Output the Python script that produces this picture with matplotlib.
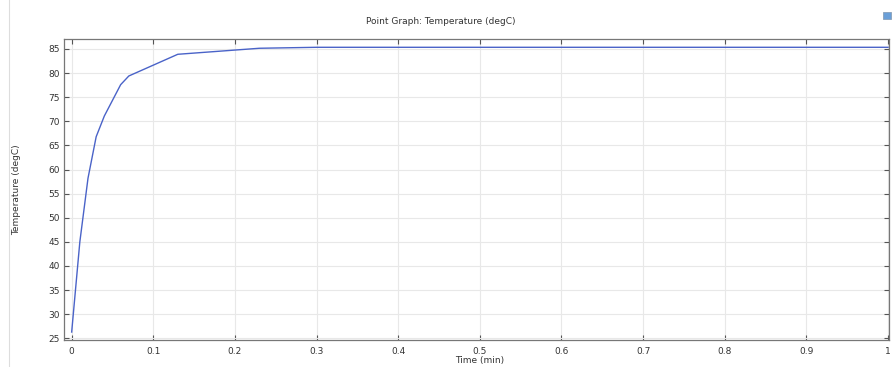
import matplotlib
matplotlib.use("Agg")
import matplotlib.pyplot as plt
from matplotlib.lines import Line2D
from matplotlib.patches import Rectangle

# Data
time_min = [0.0, 0.01, 0.02, 0.03, 0.04, 0.06, 0.07, 0.13, 0.23, 0.3, 1.0]
temp_degC = [26.3, 45.0, 58.2, 66.8, 71.1, 77.6, 79.4, 83.9, 85.15, 85.35, 85.35]
x_ticks = [0, 0.1, 0.2, 0.3, 0.4, 0.5, 0.6, 0.7, 0.8, 0.9, 1]
x_tick_labels = ["0", "0.1", "0.2", "0.3", "0.4", "0.5", "0.6", "0.7", "0.8", "0.9", "1"]
y_ticks = [25, 30, 35, 40, 45, 50, 55, 60, 65, 70, 75, 80, 85]

plt.rcParams['font.family'] = ['DejaVu Sans']
FS = 6.5
fig = plt.figure(figsize=(8.92, 3.67), dpi=100)
W, H = 892, 367
ax = fig.add_axes([64 / W, 1 - 340 / H, (889 - 64) / W, (340 - 39) / H])

ax.plot(time_min, temp_degC, color="#4a63c8", lw=1.0)

ax.set_xlim(-0.0094, 1.0012)
ax.set_ylim(24.65, 87.07)
ax.set_xticks(x_ticks)
ax.set_xticklabels(x_tick_labels)
ax.set_yticks(y_ticks)
ax.grid(True, color="#e8e8e8", lw=0.8)
ax.set_axisbelow(True)
ax.tick_params(direction="in", length=3.5, width=0.8, color="#555555",
               labelsize=FS, labelcolor="#333333", top=True, right=True)
ax.tick_params(axis="x", pad=5)
ax.tick_params(axis="y", pad=3)
for s in ax.spines.values():
    s.set_color("#777777")
    s.set_linewidth(0.9)

fig.text(440.5 / W, 1 - 21.5 / H, "Point Graph: Temperature (degC)", fontsize=FS,
         color="#333333", ha="center", va="center")
ax.set_xlabel("Time (min)", fontsize=FS, color="#333333")
ax.xaxis.set_label_coords((480 - 64) / (889 - 64), -(360 - 340) / (340 - 39))
ax.xaxis.label.set_va("center")
ax.set_ylabel("Temperature (degC)", fontsize=FS, color="#333333")
ax.yaxis.set_label_coords(-(64 - 17) / (889 - 64), 0.5)
ax.yaxis.label.set_va("center")

# panel border at left
fig.add_artist(Line2D([9 / W, 9 / W], [0, 1], color="#dddddd", lw=0.8, transform=fig.transFigure))
# small icon at top-right
fig.add_artist(Rectangle((883 / W, 1 - 19 / H), 8 / W, 7 / H, facecolor="#6a9fd8",
                         edgecolor="#8aa0b8", lw=0.6, transform=fig.transFigure))

fig.savefig("out.png", dpi=100)
